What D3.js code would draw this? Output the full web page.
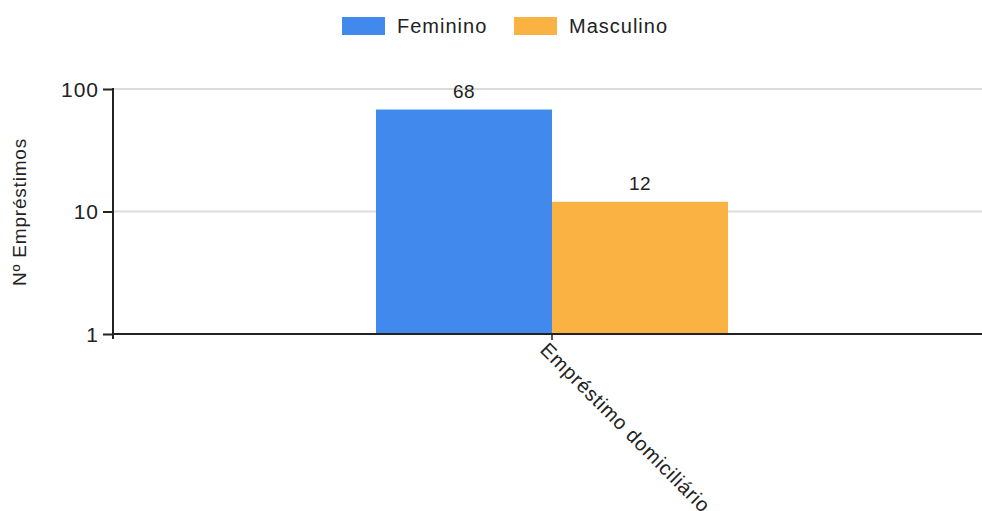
<!DOCTYPE html>
<html>
<head>
<meta charset="utf-8">
<script src="https://cdn.jsdelivr.net/npm/d3@7"></script>
<style>
  body { margin: 0; background: #fff; }
  text { font-family: "Liberation Sans", Arial, sans-serif; fill: #222; }
</style>
</head>
<body>
<script>
// data
var categories = ["Empréstimo domiciliário"];
var series = ["Feminino", "Masculino"];
var feminino = [68];
var masculino = [12];
var yTicks = [1, 10, 100];
var colors = ["#4189ec", "#fab242"];

var W = 982, H = 511;
var svg = d3.select("body").append("svg").attr("width", W).attr("height", H);

// plot area (note: "top" is reserved on window, so use plotTop)
var plotLeft = 113, plotRight = 991, plotTop = 89, plotBottom = 334;

var x = d3.scaleBand().domain(categories).range([plotLeft, plotRight]).paddingInner(0).paddingOuter(0.747);
var xs = d3.scaleBand().domain(series).range([0, x.bandwidth()]);
var y = d3.scaleLog().domain([1, 100]).range([plotBottom, plotTop]);

// gridlines
svg.append("g").selectAll("line").data(yTicks.slice(1)).join("line")
  .attr("x1", plotLeft).attr("x2", W)
  .attr("y1", function(d){ return y(d); }).attr("y2", function(d){ return y(d); })
  .attr("stroke", "#dcdcdc").attr("stroke-width", 2);

// bars
var rows = categories.map(function(c, i){ return {cat: c, values: [feminino[i], masculino[i]]}; });
var groups = svg.append("g").selectAll("g").data(rows).join("g")
  .attr("transform", function(d){ return "translate(" + x(d.cat) + ",0)"; });

groups.selectAll("rect").data(function(d){ return d.values.map(function(v, j){ return {s: series[j], v: v, j: j}; }); })
  .join("rect")
  .attr("x", function(d){ return xs(d.s); })
  .attr("width", xs.bandwidth())
  .attr("y", function(d){ return y(d.v); })
  .attr("height", function(d){ return plotBottom - y(d.v); })
  .attr("fill", function(d){ return colors[d.j]; });

groups.selectAll("text").data(function(d){ return d.values.map(function(v, j){ return {s: series[j], v: v}; }); })
  .join("text")
  .attr("x", function(d){ return xs(d.s) + xs.bandwidth() / 2; })
  .attr("y", function(d){ return y(d.v) - 12; })
  .attr("text-anchor", "middle")
  .style("font-size", "19px")
  .style("letter-spacing", "0.5px")
  .text(function(d){ return d.v; });

// y axis
var yAxis = svg.append("g").attr("transform", "translate(" + plotLeft + ",0)")
  .call(d3.axisLeft(y).tickValues(yTicks).tickFormat(d3.format("d")).tickSize(10).tickSizeOuter(0));
yAxis.select(".domain").remove();
yAxis.selectAll(".tick line").attr("stroke", "#222").attr("stroke-width", 2);
yAxis.selectAll(".tick text").attr("x", -14).attr("dy", "0.35em")
  .style("font-size", "21px").style("letter-spacing", "1px").style("fill", "#222")
  .style("font-family", "Liberation Sans, Arial, sans-serif");
svg.append("line").attr("x1", plotLeft).attr("x2", plotLeft).attr("y1", plotTop - 1).attr("y2", plotBottom + 5)
  .attr("stroke", "#222").attr("stroke-width", 2);

// x axis
var xAxis = svg.append("g").attr("transform", "translate(0," + plotBottom + ")")
  .call(d3.axisBottom(x).tickSize(6).tickSizeOuter(0));
xAxis.select(".domain").remove();
svg.append("line").attr("x1", plotLeft).attr("x2", W).attr("y1", plotBottom).attr("y2", plotBottom)
  .attr("stroke", "#222").attr("stroke-width", 2);
xAxis.selectAll(".tick line").attr("stroke", "#222").attr("stroke-width", 1.5);
xAxis.selectAll(".tick text")
  .attr("text-anchor", "start")
  .attr("transform", "translate(-3,7) rotate(45)")
  .attr("x", 0).attr("y", 0).attr("dy", "0.7em")
  .style("font-size", "20px").style("letter-spacing", "0.8px").style("fill", "#222")
  .style("font-family", "Liberation Sans, Arial, sans-serif");

// y title
svg.append("text")
  .attr("transform", "translate(26,212) rotate(-90)")
  .attr("text-anchor", "middle")
  .style("font-size", "19px")
  .style("letter-spacing", "0.8px")
  .text("Nº Empréstimos");

// legend
var legend = svg.append("g");
var lx = [342, 514];
series.forEach(function(s, i){
  legend.append("rect").attr("x", lx[i]).attr("y", 17).attr("width", 43).attr("height", 18).attr("fill", colors[i]);
  legend.append("text").attr("x", lx[i] + 55).attr("y", 33)
    .style("font-size", "20px").style("letter-spacing", "1px").text(s);
});
</script>
</body>
</html>
